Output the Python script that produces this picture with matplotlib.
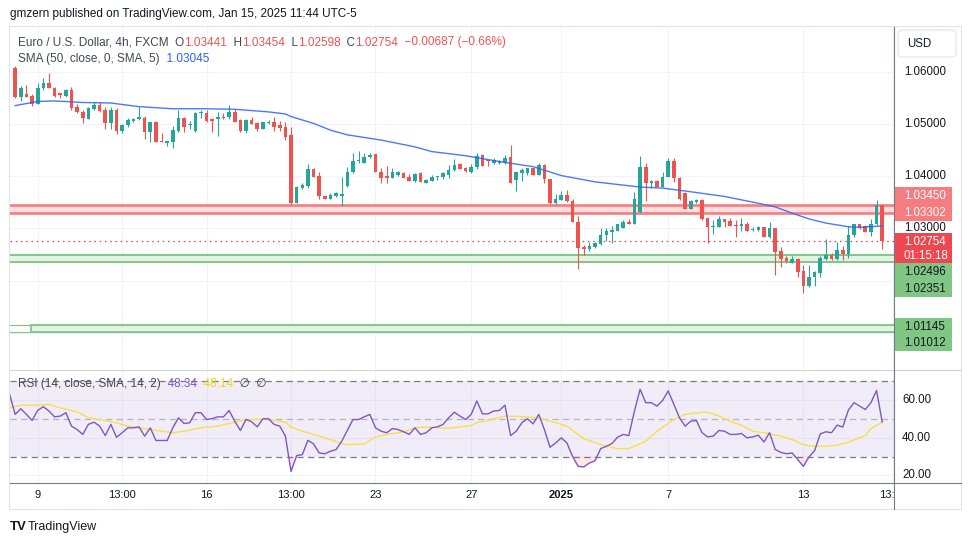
import numpy as np
import matplotlib.pyplot as plt
from matplotlib.patches import Rectangle, FancyBboxPatch
from matplotlib.lines import Line2D
import matplotlib.transforms as mtransforms

# EUR/USD 4h candles, oldest first
opens = [
    1.0608, 1.0552, 1.0558, 1.0553, 1.0539, 1.0568, 1.0578, 1.0568, 1.0559, 1.0554,
    1.0565, 1.0533, 1.0523, 1.0509, 1.0528, 1.0536, 1.0527, 1.0501, 1.0527, 1.0486,
    1.0497, 1.0505, 1.0509, 1.0512, 1.0485, 1.0503, 1.0468, 1.0464, 1.0466, 1.0486,
    1.0512, 1.0497, 1.0486, 1.0520, 1.0520, 1.0509, 1.0509, 1.0514, 1.0513, 1.0523,
    1.0507, 1.0486, 1.0507, 1.0502, 1.0490, 1.0501, 1.0504, 1.0497, 1.0495, 1.0478,
    1.0349, 1.0377, 1.0381, 1.0413, 1.0400, 1.0362, 1.0357, 1.0362, 1.0362, 1.0381,
    1.0407, 1.0429, 1.0426, 1.0436, 1.0442, 1.0408, 1.0401, 1.0397, 1.0403, 1.0405,
    1.0399, 1.0391, 1.0405, 1.0387, 1.0391, 1.0398, 1.0399, 1.0402, 1.0412, 1.0423,
    1.0415, 1.0407, 1.0417, 1.0440, 1.0430, 1.0426, 1.0426, 1.0426, 1.0436, 1.0392,
    1.0405, 1.0405, 1.0415, 1.0403, 1.0421, 1.0394, 1.0348, 1.0355, 1.0364, 1.0353,
    1.0313, 1.0265, 1.0260, 1.0265, 1.0270, 1.0287, 1.0292, 1.0295, 1.0301, 1.0313,
    1.0308, 1.0332, 1.0418, 1.0387, 1.0391, 1.0380, 1.0398, 1.0429, 1.0397, 1.0368,
    1.0337, 1.0351, 1.0355, 1.0319, 1.0302, 1.0303, 1.0317, 1.0314, 1.0306, 1.0304,
    1.0308, 1.0297, 1.0297, 1.0302, 1.0284, 1.0300, 1.0256, 1.0244, 1.0234, 1.0242,
    1.0219, 1.0190, 1.0206, 1.0215, 1.0241, 1.0249, 1.0242, 1.0258, 1.0251, 1.0287,
    1.0308, 1.0304, 1.0292, 1.0309, 1.03441]
highs = [
    1.0610, 1.0573, 1.0574, 1.0558, 1.0578, 1.0587, 1.0597, 1.0571, 1.0560, 1.0566,
    1.0571, 1.0539, 1.0527, 1.0533, 1.0541, 1.0541, 1.0533, 1.0533, 1.0530, 1.0500,
    1.0511, 1.0512, 1.0533, 1.0515, 1.0504, 1.0506, 1.0482, 1.0468, 1.0496, 1.0527,
    1.0514, 1.0506, 1.0523, 1.0527, 1.0527, 1.0511, 1.0523, 1.0520, 1.0536, 1.0528,
    1.0509, 1.0509, 1.0514, 1.0504, 1.0504, 1.0507, 1.0514, 1.0506, 1.0504, 1.0495,
    1.0381, 1.0386, 1.0424, 1.0415, 1.0408, 1.0362, 1.0368, 1.0370, 1.0399, 1.0418,
    1.0445, 1.0449, 1.0445, 1.0445, 1.0442, 1.0415, 1.0419, 1.0415, 1.0410, 1.0407,
    1.0404, 1.0405, 1.0408, 1.0395, 1.0402, 1.0401, 1.0408, 1.0421, 1.0432, 1.0426,
    1.0417, 1.0424, 1.0445, 1.0442, 1.0431, 1.0434, 1.0430, 1.0440, 1.0460, 1.0410,
    1.0415, 1.0416, 1.0416, 1.0426, 1.0423, 1.0394, 1.0365, 1.0371, 1.0373, 1.0357,
    1.0323, 1.0268, 1.0273, 1.0274, 1.0300, 1.0300, 1.0304, 1.0309, 1.0316, 1.0317,
    1.0370, 1.0439, 1.0425, 1.0392, 1.0392, 1.0407, 1.0434, 1.0434, 1.0399, 1.0370,
    1.0354, 1.0357, 1.0357, 1.0321, 1.0316, 1.0323, 1.0318, 1.0319, 1.0316, 1.0319,
    1.0313, 1.0302, 1.0304, 1.0302, 1.0313, 1.0300, 1.0265, 1.0246, 1.0246, 1.0244,
    1.0230, 1.0230, 1.0218, 1.0246, 1.0279, 1.0253, 1.0274, 1.0266, 1.0304, 1.0309,
    1.0309, 1.0306, 1.0317, 1.0354, 1.03454]
lows = [
    1.0550, 1.0544, 1.0552, 1.0535, 1.0539, 1.0565, 1.0568, 1.0552, 1.0549, 1.0552,
    1.0527, 1.0520, 1.0501, 1.0509, 1.0527, 1.0523, 1.0490, 1.0490, 1.0481, 1.0483,
    1.0495, 1.0503, 1.0507, 1.0471, 1.0466, 1.0466, 1.0466, 1.0458, 1.0454, 1.0485,
    1.0485, 1.0491, 1.0485, 1.0512, 1.0504, 1.0485, 1.0477, 1.0509, 1.0509, 1.0504,
    1.0485, 1.0482, 1.0499, 1.0486, 1.0490, 1.0499, 1.0486, 1.0486, 1.0469, 1.0347,
    1.0348, 1.0375, 1.0378, 1.0398, 1.0357, 1.0357, 1.0356, 1.0360, 1.0343, 1.0380,
    1.0405, 1.0426, 1.0426, 1.0435, 1.0407, 1.0387, 1.0386, 1.0396, 1.0401, 1.0396,
    1.0391, 1.0389, 1.0388, 1.0387, 1.0391, 1.0393, 1.0394, 1.0397, 1.0410, 1.0413,
    1.0408, 1.0406, 1.0413, 1.0420, 1.0420, 1.0424, 1.0423, 1.0424, 1.0386, 1.0372,
    1.0391, 1.0402, 1.0402, 1.0402, 1.0386, 1.0346, 1.0346, 1.0354, 1.0351, 1.0313,
    1.0223, 1.0249, 1.0257, 1.0263, 1.0268, 1.0276, 1.0272, 1.0294, 1.0300, 1.0308,
    1.0308, 1.0330, 1.0353, 1.0377, 1.0380, 1.0380, 1.0398, 1.0389, 1.0355, 1.0337,
    1.0337, 1.0349, 1.0316, 1.0272, 1.0290, 1.0302, 1.0303, 1.0304, 1.0284, 1.0295,
    1.0294, 1.0294, 1.0295, 1.0284, 1.0282, 1.0210, 1.0226, 1.0234, 1.0234, 1.0207,
    1.0177, 1.0188, 1.0190, 1.0207, 1.0240, 1.0239, 1.0240, 1.0240, 1.0244, 1.0284,
    1.0298, 1.0292, 1.0286, 1.0306, 1.02598]
closes = [
    1.0552, 1.0568, 1.0552, 1.0539, 1.0568, 1.0578, 1.0568, 1.0554, 1.0555, 1.0565,
    1.0531, 1.0523, 1.0511, 1.0530, 1.0536, 1.0525, 1.0501, 1.0527, 1.0486, 1.0498,
    1.0507, 1.0509, 1.0513, 1.0485, 1.0503, 1.0466, 1.0466, 1.0467, 1.0488, 1.0512,
    1.0495, 1.0500, 1.0521, 1.0522, 1.0506, 1.0506, 1.0513, 1.0511, 1.0523, 1.0504,
    1.0486, 1.0507, 1.0499, 1.0490, 1.0504, 1.0504, 1.0495, 1.0493, 1.0475, 1.0349,
    1.0380, 1.0383, 1.0413, 1.0399, 1.0361, 1.0357, 1.0364, 1.0367, 1.0366, 1.0408,
    1.0429, 1.0431, 1.0437, 1.0440, 1.0407, 1.0397, 1.0397, 1.0407, 1.0407, 1.0397,
    1.0391, 1.0404, 1.0389, 1.0392, 1.0398, 1.0400, 1.0405, 1.0412, 1.0421, 1.0413,
    1.0410, 1.0418, 1.0439, 1.0420, 1.0428, 1.0430, 1.0428, 1.0435, 1.0387, 1.0408,
    1.0412, 1.0415, 1.0403, 1.0422, 1.0394, 1.0348, 1.0356, 1.0364, 1.0352, 1.0313,
    1.0263, 1.0260, 1.0266, 1.0272, 1.0288, 1.0294, 1.0297, 1.0308, 1.0313, 1.0308,
    1.0356, 1.0418, 1.0387, 1.0391, 1.0380, 1.0398, 1.0429, 1.0396, 1.0357, 1.0337,
    1.0352, 1.0355, 1.0318, 1.0302, 1.0304, 1.0317, 1.0313, 1.0305, 1.0305, 1.0308,
    1.0295, 1.0299, 1.0302, 1.0284, 1.0300, 1.0255, 1.0242, 1.0238, 1.0242, 1.0217,
    1.0190, 1.0207, 1.0217, 1.0244, 1.0249, 1.0242, 1.0258, 1.0251, 1.0287, 1.0308,
    1.0300, 1.0292, 1.0309, 1.0345, 1.02754]

# SMA(50) read at points along the line (candle index, value)
sma_idx = [0, 4, 7, 12, 17, 22, 28, 34, 39, 45, 48, 49, 53, 56, 59, 65, 71, 74,
           80, 86, 92, 95, 97, 103, 111, 115, 120, 126, 132, 135, 138, 141, 144,
           148, 150, 154]
sma_val = [1.0535, 1.0543, 1.0544, 1.0541, 1.0540, 1.0533, 1.0529, 1.0529, 1.0528,
           1.0523, 1.0519, 1.0514, 1.0501, 1.0488, 1.0479, 1.0469, 1.0456, 1.0447,
           1.0439, 1.0428, 1.0418, 1.0408, 1.0401, 1.0389, 1.0379, 1.0377, 1.0370,
           1.0361, 1.0348, 1.0341, 1.0329, 1.0318, 1.0310, 1.0303, 1.0302, 1.03045]

# RSI(14), first value belongs to the candle just left of the view
rsi = [63.0,
       52.3, 55.3, 52.3, 49.1, 54.4, 56.4, 54.1, 51.0, 51.4, 53.2,
       46.1, 44.3, 41.7, 47.0, 48.2, 46.1, 41.1, 47.0, 40.2, 42.6,
       45.2, 45.2, 45.7, 40.8, 45.2, 38.5, 38.5, 38.5, 45.2, 50.5,
       47.5, 47.9, 53.2, 53.2, 49.6, 50.1, 51.0, 51.0, 54.4, 48.7,
       43.8, 49.6, 48.4, 45.7, 50.0, 50.0, 47.0, 46.1, 40.8, 22.1,
       30.5, 31.0, 38.6, 36.7, 31.9, 31.5, 32.8, 33.7, 38.1, 43.9,
       49.6, 49.6, 51.0, 52.3, 45.2, 43.4, 42.6, 44.8, 44.3, 43.1,
       41.7, 45.2, 41.7, 42.6, 45.2, 45.7, 47.0, 50.5, 53.5, 51.4,
       49.6, 52.3, 59.4, 52.6, 52.6, 54.1, 54.4, 57.2, 41.1, 43.4,
       47.9, 50.0, 47.3, 52.3, 44.3, 34.9, 37.2, 39.9, 37.2, 30.1,
       24.8, 24.5, 26.6, 27.8, 34.2, 35.4, 36.9, 40.2, 41.7, 41.1,
       54.1, 65.6, 58.5, 58.5, 56.7, 59.7, 64.7, 57.6, 50.5, 46.1,
       48.7, 49.1, 42.6, 40.4, 40.8, 43.8, 43.4, 41.7, 41.7, 42.2,
       39.9, 40.4, 41.3, 37.7, 42.6, 33.7, 32.2, 31.5, 31.9, 28.4,
       24.8, 29.8, 33.1, 42.0, 43.1, 42.6, 46.6, 45.6, 54.6, 58.5,
       56.7, 54.9, 58.5, 65.0, 48.34]

# RSI-based MA(14) read at points
rsi_ma_idx = [-1, 1, 4, 6, 8, 11, 13, 15, 18, 20, 22, 24, 26, 28, 30, 33, 36, 39,
              41, 45, 48, 49, 51, 53, 56, 58, 59, 62, 63, 64, 66, 69, 71, 73, 77,
              81, 82, 84, 87, 90, 93, 96, 98, 101, 104, 107, 109, 112, 114, 117,
              119, 122, 123, 125, 127, 129, 131, 133, 136, 138, 140, 142, 144,
              146, 148, 151, 152, 154]
rsi_ma_val = [55.8, 57.2, 57.2, 57.6, 55.8, 53.7, 50.5, 49.6, 47.9, 46.1, 45.2,
              44.3, 43.4, 42.6, 43.4, 45.2, 46.1, 48.2, 49.6, 49.6, 48.2, 45.7,
              43.4, 41.7, 39.0, 36.9, 36.3, 36.7, 38.5, 40.4, 41.7, 43.1, 45.2,
              45.6, 45.0, 46.4, 47.9, 49.1, 51.4, 51.2, 50.5, 47.9, 46.1, 39.5,
              36.3, 34.2, 34.2, 38.1, 43.4, 49.6, 52.3, 53.5, 53.5, 51.4, 48.7,
              46.6, 43.4, 42.6, 40.8, 39.0, 36.3, 35.4, 35.4, 36.0, 37.6, 41.1,
              44.8, 48.14]

tick_idx = [4, 19, 34, 49, 64, 81, 97, 116, 140, 156]
tick_lbl = ['9', '13:00', '16', '13:00', '23', '27', '2025', '7', '13', '13:00']

price_ticks = [1.06, 1.05, 1.04, 1.03]
red_zone = (1.03302, 1.03450)
green_zone = (1.02351, 1.02496)
green_zone2 = (1.01012, 1.01145)
last_price = 1.02754
rsi_last, rsi_ma_last = 48.34, 48.14

W, H = 970, 545
UP, DOWN = '#26a69a', '#ef5350'
TXT, GREY = '#131722', '#434651'

plt.rcParams['font.family'] = ['Liberation Sans', 'DejaVu Sans']
fig = plt.figure(figsize=(W / 100, H / 100), dpi=100)


def rect(x0, y0, x1, y1):
    return [x0 / W, 1 - y1 / H, (x1 - x0) / W, (y1 - y0) / H]


def plain(a):
    a.set_xticks([])
    a.set_yticks([])
    for s in a.spines.values():
        s.set_visible(False)


ax = fig.add_axes(rect(10, 27, 894, 369))
ax_rsi = fig.add_axes(rect(10, 370, 894, 483))
ax_ps = fig.add_axes(rect(894, 27, 962, 369))
ax_rs = fig.add_axes(rect(894, 370, 962, 483))
ax_t = fig.add_axes(rect(10, 484, 894, 509))
for a in (ax, ax_rsi, ax_ps, ax_rs, ax_t):
    plain(a)

xlim = (-0.92, 156.1)
ax.set_xlim(xlim)
ax_rsi.set_xlim(xlim)
ax_t.set_xlim(xlim)
ax_t.set_ylim(0, 1)
ax.set_ylim(1.00305, 1.06856)
ax_ps.set_ylim(ax.get_ylim())
ax_rsi.set_ylim(16.0, 75.8)
ax_rs.set_ylim(ax_rsi.get_ylim())

# grid
for i in tick_idx:
    ax.axvline(i, color='#f0f3fa', lw=0.8, zorder=0)
    ax_rsi.axvline(i, color='#f0f3fa', lw=0.8, zorder=0)
for p in [1.06, 1.05, 1.04, 1.03, 1.02, 1.01]:
    ax.axhline(p, color='#f0f3fa', lw=0.8, zorder=0)
for v in [20, 40, 60]:
    ax_rsi.axhline(v, color='#f0f3fa', lw=0.8, zorder=0)

# zones
ax.axhspan(*red_zone, color='#fddfe0', lw=0, zorder=1)
for p in red_zone:
    ax.axhline(p, color='#f77c80', lw=1.9, zorder=1.5)
ax.axhspan(*green_zone, color='#e4f3e4', lw=0, zorder=1)
for p in green_zone:
    ax.axhline(p, color='#81c784', lw=1.4, zorder=1.5)
for p in green_zone2:
    ax.axhline(p, color='#81c784', lw=0.8, zorder=1.5)
ax.add_patch(Rectangle((2.8, green_zone2[0]), 160, green_zone2[1] - green_zone2[0],
                       facecolor='#e4f3e4', edgecolor='#81c784', lw=1.3, zorder=1.4))
ax.axhline(last_price, color='#f23645', lw=0.9, ls=(0, (1.2, 3)), zorder=2)

# candles
o, h, l, c = (np.array(v) for v in (opens, highs, lows, closes))
x = np.arange(len(o))
cols = np.where(c >= o, UP, DOWN)
ax.vlines(x, l, h, colors=cols, lw=0.8, zorder=3)
ax.bar(x, np.maximum(np.abs(c - o), 0.00012), bottom=np.minimum(o, c), width=0.64,
       color=cols, lw=0, zorder=4)
ax.plot(sma_idx, sma_val, color='#2962ff', lw=1.0, alpha=0.85, zorder=5)

# RSI panel
rx = np.arange(-1, len(rsi) - 1)
r = np.array(rsi)
ax_rsi.axhspan(30, 70, color='#7e57c2', alpha=0.1, lw=0, zorder=0.5)
for v in (70, 30):
    ax_rsi.axhline(v, color='#787b86', lw=0.9, ls=(0, (5, 3.5)), zorder=1)
ax_rsi.axhline(50, color='#787b86', lw=0.9, alpha=0.5, ls=(0, (5, 3.5)), zorder=1)
ax_rsi.fill_between(rx, r, 30, where=r < 30, interpolate=True, color='#f23645',
                    alpha=0.12, lw=0, zorder=1.5)
ax_rsi.plot(rsi_ma_idx, rsi_ma_val, color='#f5e04a', lw=1.0, zorder=2)
ax_rsi.plot(rx, r, color='#7e57c2', lw=1.0, zorder=3)

# time labels
for i, lab in zip(tick_idx, tick_lbl):
    ax_t.text(i, 0.56, lab, ha='center', va='center', fontsize=8, color=TXT,
              fontweight='bold' if lab == '2025' else 'normal', clip_on=True)

# price scale
bt = mtransforms.blended_transform_factory(ax_ps.transAxes, ax_ps.transData)
for p in price_ticks:
    ax_ps.text(0.147, p, f'{p:.5f}', transform=bt, va='center', fontsize=8.3, color=TXT)
bt2 = mtransforms.blended_transform_factory(ax_rs.transAxes, ax_rs.transData)
for v in (60, 40, 20):
    ax_rs.text(0.12, v, f'{v:.2f}', transform=bt2, va='center', fontsize=8.3, color=TXT)


def fbox(x0, y0, x1, y1, color):
    fig.add_artist(Rectangle((x0 / W, 1 - y1 / H), (x1 - x0) / W, (y1 - y0) / H,
                             transform=fig.transFigure, facecolor=color, lw=0))


def ftext(xp, yp, s, color=TXT, size=8.3, **kw):
    return fig.text(xp / W, 1 - yp / H, s, color=color, fontsize=size, va='center', **kw)


label_boxes = [
    (187, 221, '#f77c80', 'white', [(f'{red_zone[1]:.5f}', 196), (f'{red_zone[0]:.5f}', 213)]),
    (233, 263, '#f0474f', 'white', [(f'{last_price:.5f}', 242), ('01:15:18', 255.5)]),
    (263, 297, '#81c784', TXT, [(f'{green_zone[1]:.5f}', 272), (f'{green_zone[0]:.5f}', 289)]),
    (318, 351, '#81c784', TXT, [(f'{green_zone2[1]:.5f}', 326.5), (f'{green_zone2[0]:.5f}', 343)]),
]
for y0, y1, col, tcol, lines in label_boxes:
    fbox(895, y0, 952, y1, col)
    for s, yy in lines:
        ftext(904, yy, s, color=tcol)

fig.add_artist(FancyBboxPatch((898 / W, 1 - 57 / H), 58 / W, 27 / H,
                              boxstyle='round,pad=0,rounding_size=0.006',
                              transform=fig.transFigure, facecolor='white',
                              edgecolor='#e0e3eb', lw=0.8))
ftext(907, 44, 'USD', size=8.3)


# frame lines
def fline(xs, ys, color, lw):
    fig.add_artist(Line2D([v / W for v in xs], [1 - v / H for v in ys],
                          transform=fig.transFigure, color=color, lw=lw))


fline([9, 961, 961, 9, 9], [26, 26, 509, 509, 26], '#e0e3eb', 0.8)
fline([10, 961], [369.5, 369.5], '#d1d4dc', 0.8)
fline([10, 961], [483, 483], '#787b86', 0.8)
fline([894, 894], [27, 509], '#787b86', 0.8)


# legends
def segments(xp, yp, parts, size=8.5):
    rend = fig.canvas.get_renderer()
    for s, col in parts:
        t = ftext(xp, yp, s, color=col, size=size)
        xp += t.get_window_extent(renderer=rend).width


ftext(10, 14, 'gmzern published on TradingView.com, Jan 15, 2025 11:44 UTC-5', size=8.5)
segments(18, 42.5, [('Euro / U.S. Dollar, 4h, FXCM  O', GREY), (f'{opens[-1]:.5f}', DOWN),
                    ('  H', GREY), (f'{highs[-1]:.5f}', DOWN), ('  L', GREY),
                    (f'{lows[-1]:.5f}', DOWN), ('  C', GREY), (f'{closes[-1]:.5f}', DOWN),
                    ('  \u22120.00687 (\u22120.66%)', DOWN)])
segments(18, 59, [('SMA (50, close, 0, SMA, 5)', GREY), (f'  {sma_val[-1]:.5f}', '#2962ff')])
segments(18, 384, [('RSI (14, close, SMA, 14, 2)', GREY), (f'  {rsi_last:.2f}', '#7e57c2'),
                   (f'  {rsi_ma_last:.2f}', '#f0d816'), ('  \u2205  \u2205', GREY)])

ftext(10, 527, 'TV', size=9.5, fontweight='heavy')
ftext(28, 527, 'TradingView', size=9)

fig.savefig('out.png', dpi=100, facecolor='white')
